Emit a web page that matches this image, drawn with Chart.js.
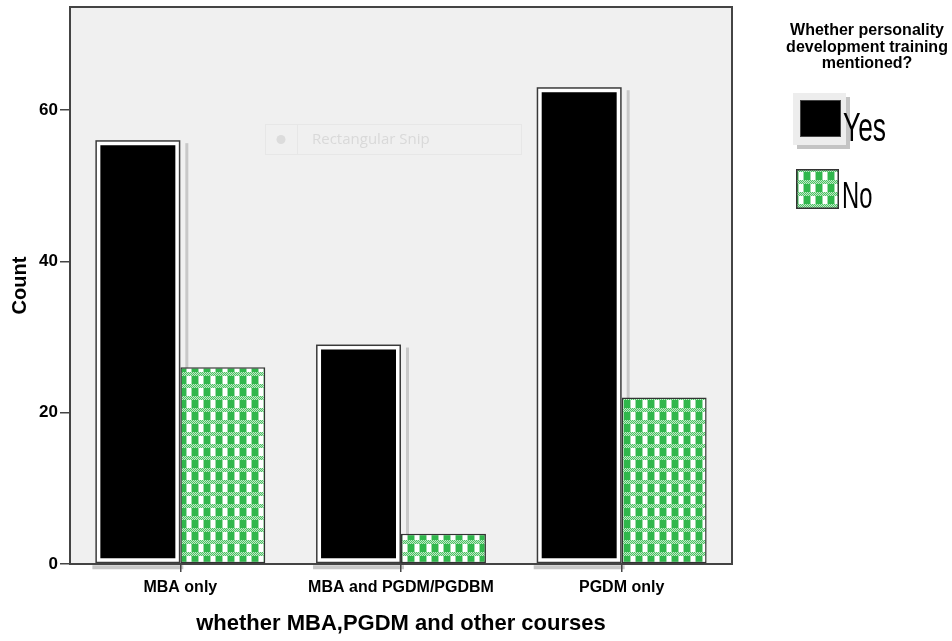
<!DOCTYPE html>
<html>
<head>
<meta charset="utf-8">
<title>Personality development training by course</title>
<script src="https://cdn.jsdelivr.net/npm/chart.js@4.4.0/dist/chart.umd.min.js"></script>
<style>
  body { margin: 0; background: #fff; }
  #wrap { width: 952px; height: 641px; }
</style>
</head>
<body>
<div id="wrap"><canvas id="bar-chart" width="952" height="641"></canvas></div>
<script>
// counts
var categories = ['MBA only', 'MBA and PGDM/PGDBM', 'PGDM only'];
var yesCounts = [56, 29, 63];
var noCounts = [26, 4, 22];
var seriesNames = ['Yes', 'No'];
var yTicks = [0, 20, 40, 60];
var yMax = 73.6;
var legendTitle = ['Whether personality', 'development training', 'mentioned?'];
var xTitle = 'whether MBA,PGDM and other courses';
var yTitle = 'Count';

// green gingham fill used for the "No" bars
function makePattern() {
    var c = document.createElement('canvas');
    c.width = 12; c.height = 12;
    var p = c.getContext('2d');
    p.fillStyle = '#ffffff';
    p.fillRect(0, 0, 12, 12);
    p.fillStyle = '#30b74c';
    p.fillRect(0, 4, 6, 8);
    // dotted light band
    for (var x = 0; x < 12; x++) {
        for (var y = 0; y < 4; y++) {
            p.fillStyle = (x + y) % 2 === 0 ? '#4cc264' : '#bfe9c7';
            p.fillRect(x, y, 1, 1);
        }
    }
    p.fillStyle = '#9fdcab';
    p.fillRect(6, 4, 1, 8);
    p.fillRect(11, 4, 1, 8);
    return p.createPattern(c, 'repeat');
}
var gingham = makePattern();

var decor = {
    id: 'decor',
    beforeDraw: function(chart) {
        var ctx = chart.ctx, a = chart.chartArea;
        ctx.save();
        ctx.fillStyle = '#f0f0f0';
        ctx.fillRect(a.left, a.top, a.right - a.left, a.bottom - a.top);
        // faint screenshot-tool overlay seen in the original
        ctx.strokeStyle = '#e7e7e7';
        ctx.lineWidth = 1;
        ctx.strokeRect(265.5, 124.5, 256, 30);
        ctx.beginPath(); ctx.moveTo(297.5, 125); ctx.lineTo(297.5, 154); ctx.stroke();
        ctx.fillStyle = '#dcdcdc';
        ctx.beginPath(); ctx.arc(281, 139.5, 4.5, 0, Math.PI * 2); ctx.fill();
        ctx.fillStyle = '#d9d9d9';
        ctx.font = '15px "Open Sans"';
        ctx.textBaseline = 'middle';
        ctx.fillText('Rectangular Snip', 312, 139.5);
        // grey drop shadow of the Yes bars
        var meta = chart.getDatasetMeta(0);
        ctx.fillStyle = '#c8c8c8';
        meta.data.forEach(function(bar) {
            var left = bar.x - bar.width / 2, right = bar.x + bar.width / 2;
            ctx.fillRect(right + 5, bar.y + 3, 3, bar.base - bar.y - 3);
            ctx.fillRect(left - 3, bar.base + 2, bar.width + 6, 4);
        });
        ctx.restore();
    },
    afterDatasetsDraw: function(chart) {
        var ctx = chart.ctx;
        var meta = chart.getDatasetMeta(0);
        ctx.save();
        ctx.strokeStyle = '#3a3a3a';
        ctx.lineWidth = 1.5;
        meta.data.forEach(function(bar) {
            var left = bar.x - bar.width / 2;
            ctx.strokeRect(left + 0.75, bar.y + 0.75, bar.width - 1.5, bar.base - bar.y - 1.5);
        });
        ctx.restore();
    },
    afterDraw: function(chart) {
        var ctx = chart.ctx, a = chart.chartArea;
        ctx.save();
        ctx.strokeStyle = '#444';
        ctx.lineWidth = 2;
        ctx.strokeRect(a.left, a.top, a.right - a.left, a.bottom - a.top);

        // legend
        ctx.fillStyle = '#000';
        ctx.font = 'bold 16px "Liberation Sans"';
        ctx.textAlign = 'center';
        ctx.textBaseline = 'alphabetic';
        legendTitle.forEach(function(line, i) {
            ctx.fillText(line, 867, 35 + i * 16.5);
        });
        ctx.fillStyle = '#c4c4c4';
        ctx.fillRect(797, 97, 53, 52);
        ctx.fillStyle = '#ededed';
        ctx.fillRect(793, 93, 53, 52);
        ctx.fillStyle = '#000';
        ctx.fillRect(800, 100, 41, 37);
        ctx.strokeStyle = '#444';
        ctx.lineWidth = 1;
        ctx.strokeRect(800.5, 100.5, 40, 36);

        ctx.fillStyle = gingham;
        ctx.fillRect(796, 169, 43, 40);
        ctx.strokeStyle = '#333';
        ctx.lineWidth = 1.5;
        ctx.strokeRect(796.75, 169.75, 41.5, 38.5);

        ctx.fillStyle = '#000';
        ctx.textAlign = 'left';
        ctx.font = '40px "Liberation Sans"';
        ctx.save(); ctx.translate(843, 141); ctx.scale(0.66, 1);
        ctx.fillText(seriesNames[0], 0, 0); ctx.restore();
        ctx.font = '36px "Liberation Sans"';
        ctx.save(); ctx.translate(842, 208); ctx.scale(0.66, 1);
        ctx.fillText(seriesNames[1], 0, 0); ctx.restore();
        ctx.restore();
    }
};

var ctx = document.getElementById('bar-chart');

var barChart = new Chart(ctx, {
    type: 'bar',
    data: {
        labels: categories,
        datasets: [
            {
                label: seriesNames[0],
                data: yesCounts,
                backgroundColor: '#000000',
                borderColor: '#ffffff',
                borderWidth: 5,
                borderSkipped: false
            },
            {
                label: seriesNames[1],
                data: noCounts,
                backgroundColor: gingham,
                borderColor: '#333333',
                borderWidth: 1.5,
                borderSkipped: false
            }
        ]
    },
    options: {
        responsive: false,
        animation: false,
        events: [],
        layout: { padding: { top: 7, right: 220, left: 0, bottom: 0 } },
        categoryPercentage: 0.77,
        barPercentage: 1.0,
        plugins: {
            legend: { display: false },
            tooltip: { enabled: false }
        },
        scales: {
            x: {
                offset: true,
                border: { display: false },
                grid: {
                    offset: false,
                    drawOnChartArea: false,
                    tickLength: 8,
                    color: '#444',
                    lineWidth: 1.5
                },
                ticks: {
                    color: '#000',
                    padding: 6,
                    maxRotation: 0,
                    autoSkip: false,
                    font: { family: '"Liberation Sans"', size: 16, weight: 'bold' }
                },
                title: {
                    display: true,
                    text: xTitle,
                    color: '#000',
                    padding: { top: 0, bottom: 4 },
                    font: { family: '"Liberation Sans"', size: 22, weight: 'bold' }
                },
                afterFit: function(scale) { scale.height = 77; }
            },
            y: {
                min: 0,
                max: yMax,
                border: { display: false },
                grid: {
                    drawOnChartArea: false,
                    tickLength: 10,
                    lineWidth: 1.5,
                    color: function(c) {
                        return yTicks.indexOf(c.tick && c.tick.value) >= 0 ? '#444' : 'rgba(0,0,0,0)';
                    }
                },
                ticks: {
                    stepSize: 20,
                    color: '#000',
                    padding: 2,
                    font: { family: '"Liberation Sans"', size: 17, weight: 'bold' },
                    callback: function(v) { return yTicks.indexOf(v) >= 0 ? v : ''; }
                },
                title: {
                    display: true,
                    text: yTitle,
                    color: '#000',
                    padding: { top: 8, bottom: 0 },
                    font: { family: '"Liberation Sans"', size: 20, weight: 'bold' }
                },
                afterFit: function(scale) {
                    scale.width = 70;
                    scale.paddingTop = 0;
                    scale.paddingBottom = 0;
                }
            }
        }
    },
    plugins: [decor]
});
</script>
</body>
</html>
